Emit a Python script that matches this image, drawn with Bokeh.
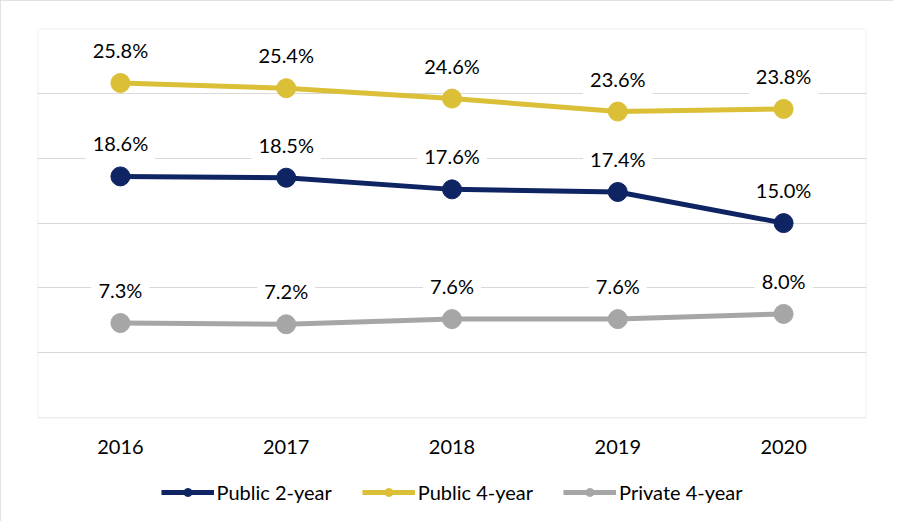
from bokeh.plotting import figure
from bokeh.models import ColumnDataSource, Legend, LegendItem, FixedTicker, BoxAnnotation
from bokeh.core.properties import value
from bokeh.embed import file_html
from bokeh.resources import INLINE

years = ["2016", "2017", "2018", "2019", "2020"]
public_2yr = [18.6, 18.5, 17.6, 17.4, 15.0]
public_4yr = [25.8, 25.4, 24.6, 23.6, 23.8]
private_4yr = [7.3, 7.2, 7.6, 7.6, 8.0]
series_names = ["Public 2-year", "Public 4-year", "Private 4-year"]
colors = ["#0E2463", "#DBBF37", "#A6A6A6"]
y_grid_ticks = [5, 10, 15, 20, 25]
y_min, y_max = 0, 30

FONT = "Lato"

p = figure(x_range=years, y_range=(-8, y_max),
           frame_width=829, frame_height=493,
           output_backend="svg", toolbar_location=None,
           min_border_left=37, min_border_right=27, min_border_top=28,
           min_border_bottom=0)
p.x_range.range_padding = 0
p.styles = {"outline": "1px solid #d9d9d9", "outline-offset": "-1px"}

p.outline_line_color = None
p.background_fill_color = "white"
p.border_fill_color = "white"

p.xgrid.grid_line_color = None
p.ygrid.grid_line_color = "#d9d9d9"
p.ygrid.grid_line_width = 1
p.yaxis.visible = False
p.xaxis.visible = False
p.yaxis.ticker = FixedTicker(ticks=y_grid_ticks)

# visible plot box from 0% to 30%
box = BoxAnnotation(bottom=y_min, top=y_max, fill_alpha=0,
                    line_color="#c4c4c4", line_width=1.5, level="underlay")
p.add_layout(box)

# category labels under the plot box
p.text(x=years, y=y_min, text=years, y_offset=29,
       text_align="center", text_baseline="middle",
       text_font=value(FONT), text_font_size="20px", text_color="black")

items = []
for name, vals, col in zip(series_names, [public_2yr, public_4yr, private_4yr], colors):
    src = ColumnDataSource(dict(x=years, y=vals, lbl=[f"{v:.1f}%" for v in vals]))
    ln = p.line("x", "y", source=src, line_width=5, line_color=col)
    sc = p.scatter("x", "y", source=src, size=19, fill_color=col, line_color=col)
    p.text("x", "y", text="lbl", source=src, y_offset=-33,
           text_align="center", text_baseline="middle",
           text_font=value(FONT), text_font_size="20px", text_color="black",
           background_fill_color="white", padding=7)
    items.append(LegendItem(label=name, renderers=[ln, sc]))

legend = Legend(items=items, orientation="horizontal", location="bottom_center",
                glyph_width=53, glyph_height=20, label_standoff=3, spacing=30,
                label_text_font=FONT, label_text_font_size="20px",
                label_text_color="black", border_line_color=None,
                background_fill_alpha=0, padding=0, margin=17)
p.add_layout(legend)

open("out.html", "w").write(file_html(p, INLINE))
